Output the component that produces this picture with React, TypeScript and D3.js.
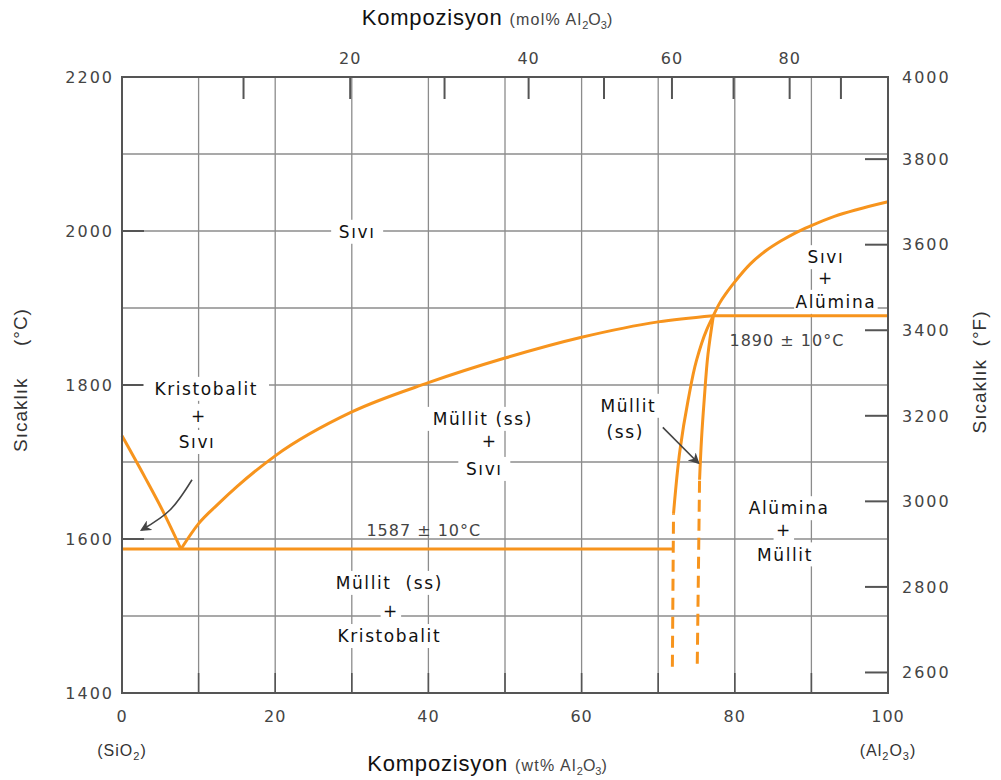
import { line, curveMonotoneX, curveMonotoneY, curveNatural, scaleLinear, range } from "d3";

const cristobaliteLiquidus: Array<[number, number]> = [
  [0, 1734], [3, 1680], [5.5, 1633], [7.7, 1587],
];
const mulliteLiquidus: Array<[number, number]> = [
  [7.7, 1587], [10, 1620], [12.5, 1645], [15, 1668], [20, 1708], [30, 1765],
  [40, 1803], [50, 1835], [60, 1862], [70, 1882], [77.2, 1890],
];
const aluminaLiquidus: Array<[number, number]> = [
  [77.2, 1890], [78, 1906], [79, 1921], [80, 1934], [82, 1957], [84, 1974],
  [86, 1987], [88, 1998], [90, 2007], [93, 2019], [96, 2028], [100, 2038],
];
// mullite solid-solution boundaries (sorted by temperature)
const mulliteLeftSolid: Array<[number, number]> = [
  [72.0, 1633], [72.85, 1716], [73.9, 1780], [75, 1832], [76.3, 1871], [77.2, 1890],
];
const mulliteLeftDashed: Array<[number, number]> = [[71.85, 1434], [72.0, 1633]];
const mulliteRightSolid: Array<[number, number]> = [
  [75.4, 1677], [75.65, 1729], [76.0, 1780], [76.5, 1840], [77.2, 1890],
];
const mulliteRightDashed: Array<[number, number]> = [[75.1, 1438], [75.4, 1677]];
const eutectic: Array<[number, number]> = [[0, 1587], [72.0, 1587]];
const aluminaEutectic: Array<[number, number]> = [[77.2, 1890], [100, 1890]];

const celsiusTicks = [1400, 1600, 1800, 2000, 2200];
const fahrenheitTicks = [2600, 2800, 3000, 3200, 3400, 3600, 3800, 4000];
const wtTicks = [0, 20, 40, 60, 80, 100];
const molTicks = [10, 20, 30, 40, 50, 60, 70, 80, 90];
const molLabels = [20, 40, 60, 80];

// region labels: text, wt%, °C
const regionLabels: Array<[string, number, number]> = [
  ["Sıvı", 30.7, 1999],
  ["Sıvı", 91.9, 1966], ["+", 91.9, 1939], ["Alümina", 93.2, 1908],
  ["Kristobalit", 11.0, 1795], ["+", 10.05, 1760], ["Sıvı", 9.8, 1726],
  ["Müllit (ss)", 47.1, 1756], ["+", 48.0, 1727], ["Sıvı", 47.3, 1691],
  ["Müllit  (ss)", 34.9, 1543], ["+", 35.1, 1507], ["Kristobalit", 34.9, 1474],
  ["Müllit", 66.1, 1773], ["(ss)", 65.7, 1739],
  ["Alümina", 87.1, 1640], ["+", 86.4, 1612], ["Müllit", 86.55, 1580],
];
const tempLabels: Array<[string, number, number]> = [
  ["1890 ± 10°C", 86.8, 1858],
  ["1587 ± 10°C", 39.4, 1612],
];
const arrows: Array<Array<[number, number]>> = [
  [[9.14, 1677], [6.3, 1638], [2.6, 1612]],
  [[70.6, 1745], [75.2, 1699]],
];

const ORANGE = "#F7941D";
const GRID = "#8c8c8c";
const DARK = "#555";
const TICK_FONT = "'DejaVu Sans', Verdana, sans-serif";
const TITLE_FONT = "'Liberation Sans', Arial, sans-serif";

const molToWt = (m: number) => (m * 101.96) / (m * 101.96 + (100 - m) * 60.08) * 100;
const fToC = (f: number) => (f - 32) / 1.8;

export default function App() {
  const width = 1001;
  const height = 780;
  const x = scaleLinear().domain([0, 100]).range([122, 888]);
  const y = scaleLinear().domain([1400, 2200]).range([693, 77]);
  const [x0, x1] = x.range();
  const [y0, y1] = y.range();

  const byX = line<[number, number]>()
    .x((d) => x(d[0]))
    .y((d) => y(d[1]))
    .curve(curveMonotoneX);
  const byY = line<[number, number]>()
    .x((d) => x(d[0]))
    .y((d) => y(d[1]))
    .curve(curveMonotoneY);
  const arrowLine = line<[number, number]>()
    .x((d) => x(d[0]))
    .y((d) => y(d[1]))
    .curve(curveNatural);

  const solidsX = [cristobaliteLiquidus, mulliteLiquidus, aluminaLiquidus, eutectic, aluminaEutectic];
  const solidsY = [mulliteLeftSolid, mulliteRightSolid];
  const dashed = [mulliteLeftDashed, mulliteRightDashed];

  const subtitle = (label: string) => (
    <>
      <tspan fontSize={22} letterSpacing={0.8} fill="#111">Kompozisyon </tspan>
      <tspan fontSize={16} letterSpacing={1.2}>({label} Al</tspan>
      <tspan fontSize={11} dy={4}>2</tspan>
      <tspan fontSize={16} dy={-4}>O</tspan>
      <tspan fontSize={11} dy={4}>3</tspan>
      <tspan fontSize={16} dy={-4}>)</tspan>
    </>
  );

  return (
    <svg width={width} height={height} style={{ position: "absolute", left: 0, top: 0, background: "#fff" }}>
      <defs>
        <marker id="arrowhead" viewBox="0 0 10 10" refX="8" refY="5" markerWidth="7" markerHeight="7" orient="auto">
          <path d="M0,0 L10,5 L0,10 L3,5 Z" fill="#444" />
        </marker>
      </defs>

      {/* grid */}
      {range(10, 100, 10).map((v) => (
        <line key={`gx-${v}`} x1={x(v)} x2={x(v)} y1={y1} y2={y0} stroke={GRID} strokeWidth={1.3} />
      ))}
      {range(1500, 2200, 100).map((v) => (
        <line key={`gy-${v}`} x1={x0} x2={x1} y1={y(v)} y2={y(v)} stroke={GRID} strokeWidth={1.3} />
      ))}

      {/* ticks */}
      {celsiusTicks.map((v) => (
        <line key={`lt-${v}`} x1={x0} x2={x0 + 22} y1={y(v)} y2={y(v)} stroke={DARK} strokeWidth={2} />
      ))}
      {fahrenheitTicks.filter((v) => fToC(v) <= 2200).map((v) => (
        <line key={`rt-${v}`} x1={x1 - 23} x2={x1} y1={y(fToC(v))} y2={y(fToC(v))} stroke={DARK} strokeWidth={2} />
      ))}
      {molTicks.map((v) => (
        <line key={`tt-${v}`} x1={x(molToWt(v))} x2={x(molToWt(v))} y1={y1} y2={y1 + 22} stroke={DARK} strokeWidth={2} />
      ))}
      {range(10, 100, 10).map((v) => (
        <line key={`bt-${v}`} x1={x(v)} x2={x(v)} y1={y0} y2={y0 - 20} stroke={DARK} strokeWidth={1.6} />
      ))}

      {/* white boxes behind region labels */}
      {regionLabels.map(([t, wx, c], i) => {
        const w = t.length * 10.5 + 10;
        return <rect key={`bg-${i}`} x={x(wx) - w / 2} y={y(c) - 12} width={w} height={24} fill="#fff" />;
      })}

      {/* phase boundaries */}
      {solidsX.map((d, i) => (
        <path key={`s-${i}`} d={byX(d) ?? ""} fill="none" stroke={ORANGE} strokeWidth={3} strokeLinejoin="round" />
      ))}
      {solidsY.map((d, i) => (
        <path key={`v-${i}`} d={byY(d) ?? ""} fill="none" stroke={ORANGE} strokeWidth={3} strokeLinejoin="round" />
      ))}
      {dashed.map((d, i) => (
        <path key={`d-${i}`} d={byY(d) ?? ""} fill="none" stroke={ORANGE} strokeWidth={3} strokeDasharray="12 7" />
      ))}

      {/* arrows */}
      {arrows.map((d, i) => (
        <path key={`a-${i}`} d={arrowLine(d) ?? ""} fill="none" stroke="#444" strokeWidth={1.6} markerEnd="url(#arrowhead)" />
      ))}

      {/* frame */}
      <rect x={x0} y={y1} width={x1 - x0} height={y0 - y1} fill="none" stroke={DARK} strokeWidth={2} />

      {/* region labels */}
      {regionLabels.map(([t, wx, c], i) => (
        <text key={`rl-${i}`} x={x(wx)} y={y(c)} dy="0.36em" textAnchor="middle"
          fontFamily={TICK_FONT} fontSize={17} letterSpacing={1.6} fill="#111" style={{ whiteSpace: "pre" }}>
          {t}
        </text>
      ))}
      {tempLabels.map(([t, wx, c], i) => (
        <text key={`tl-${i}`} x={x(wx)} y={y(c)} dy="0.36em" textAnchor="middle"
          fontFamily={TICK_FONT} fontSize={16} letterSpacing={1} fill="#444">
          {t}
        </text>
      ))}

      {/* axis tick labels */}
      {celsiusTicks.map((v) => (
        <text key={`ll-${v}`} x={x0 - 8} y={y(v)} dy="0.36em" textAnchor="end" fontFamily={TICK_FONT} fontSize={16} letterSpacing={2} fill="#444">
          {v}
        </text>
      ))}
      {fahrenheitTicks.map((v) => (
        <text key={`fl-${v}`} x={x1 + 14} y={Math.max(y(fToC(v)), y1)} dy="0.36em" textAnchor="start" fontFamily={TICK_FONT} fontSize={16} letterSpacing={2} fill="#444">
          {v}
        </text>
      ))}
      {molLabels.map((v) => (
        <text key={`ml-${v}`} x={x(molToWt(v))} y={y1 - 13} textAnchor="middle" fontFamily={TICK_FONT} fontSize={16} letterSpacing={1} fill="#444">
          {v}
        </text>
      ))}
      {wtTicks.map((v) => (
        <text key={`wl-${v}`} x={x(v)} y={y0 + 29} textAnchor="middle" fontFamily={TICK_FONT} fontSize={16} letterSpacing={1} fill="#444">
          {v}
        </text>
      ))}

      {/* end-member labels */}
      <text x={x0} y={y0 + 63} textAnchor="middle" fontFamily={TITLE_FONT} fontSize={16} letterSpacing={1} fill="#333">
        (SiO<tspan fontSize={11} dy={4}>2</tspan><tspan dy={-4}>)</tspan>
      </text>
      <text x={x1} y={y0 + 63} textAnchor="middle" fontFamily={TITLE_FONT} fontSize={16} letterSpacing={1} fill="#333">
        (Al<tspan fontSize={11} dy={4}>2</tspan><tspan dy={-4}>O</tspan><tspan fontSize={11} dy={4}>3</tspan><tspan dy={-4}>)</tspan>
      </text>

      {/* axis titles */}
      <text x={487} y={25} textAnchor="middle" fontFamily={TITLE_FONT} fill="#444">
        {subtitle("mol%")}
      </text>
      <text x={487} y={771} textAnchor="middle" fontFamily={TITLE_FONT} fill="#444">
        {subtitle("wt%")}
      </text>
      <text transform="translate(27, 380) rotate(-90)" textAnchor="middle" fontFamily={TITLE_FONT} fontSize={19} letterSpacing={1} fill="#333" style={{ whiteSpace: "pre" }}>
        Sıcaklık     (°C)
      </text>
      <text transform="translate(986, 372) rotate(-90)" textAnchor="middle" fontFamily={TITLE_FONT} fontSize={19} letterSpacing={1} fill="#333" style={{ whiteSpace: "pre" }}>
        Sıcaklık  (°F)
      </text>
    </svg>
  );
}
